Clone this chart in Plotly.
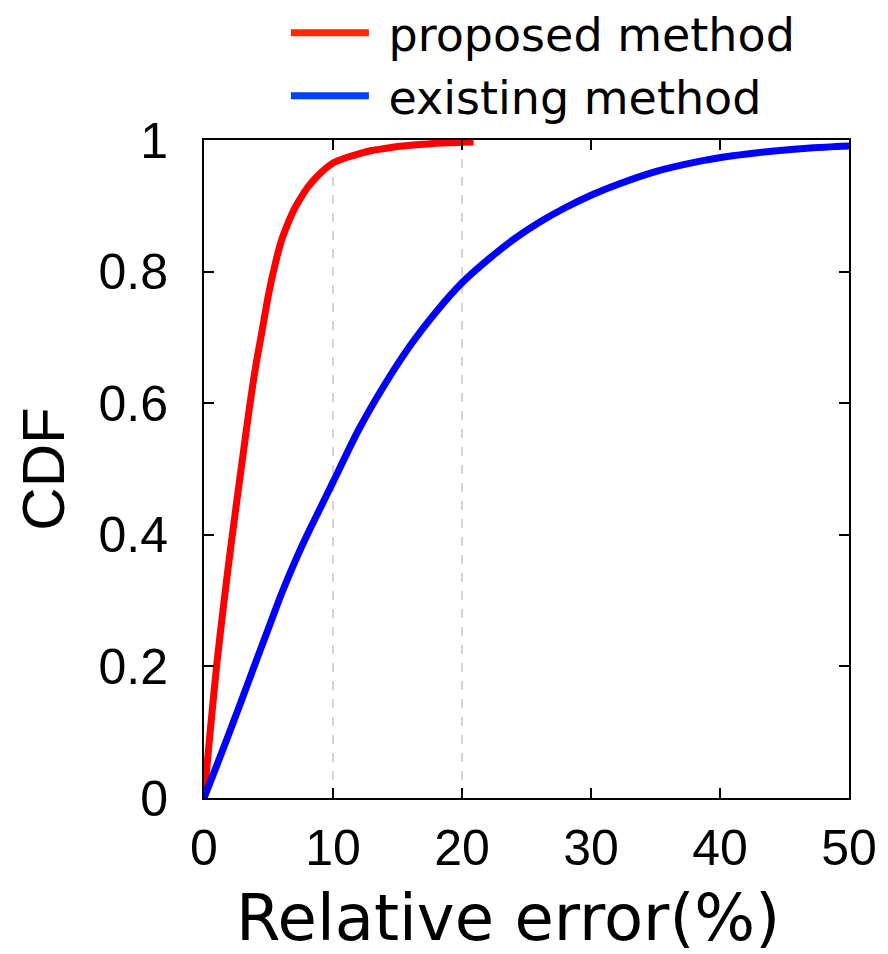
import plotly.graph_objects as go

# Data
proposed_x = [0, 0.5, 1, 1.5, 2, 2.5, 3, 3.5, 4, 4.5, 5, 5.5, 6, 6.5, 7, 7.5, 8, 8.5, 9, 9.5,
              10, 11, 12, 13, 14, 15, 16, 17, 18, 19, 20, 20.9]
proposed_y = [0, 0.105, 0.205, 0.29, 0.37, 0.445, 0.518, 0.59, 0.655, 0.71, 0.765, 0.81, 0.847, 0.873,
              0.895, 0.912, 0.927, 0.939, 0.949, 0.958, 0.965, 0.973, 0.979, 0.984, 0.987, 0.990,
              0.992, 0.9935, 0.995, 0.996, 0.9965, 0.997]

existing_x = [0, 1, 2, 3, 4, 5, 6, 7, 8, 9, 10, 12, 14, 16, 18, 20, 22, 24, 26, 28, 30, 32,
              35, 38, 41, 44, 47, 50]
existing_y = [0, 0.05, 0.101, 0.153, 0.206, 0.258, 0.31, 0.357, 0.40, 0.44, 0.48, 0.56, 0.628, 0.688,
              0.739, 0.783, 0.818, 0.849, 0.875, 0.897, 0.916, 0.932, 0.952, 0.966, 0.976, 0.983,
              0.988, 0.991]

series_names = ["proposed method", "existing method"]
line_colors = ["#ff0000", "#0000ff"]
legend_colors = ["#ff2a00", "#0040ff"]

x_ticks = [0, 10, 20, 30, 40, 50]
y_ticks = [0, 0.2, 0.4, 0.6, 0.8, 1]
y_tick_labels = ["0", "0.2", "0.4", "0.6", "0.8", "1"]
ref_lines = [10, 20]

fig = go.Figure()

for xs, ys, name, col in zip([proposed_x, existing_x], [proposed_y, existing_y], series_names, line_colors):
    fig.add_trace(go.Scatter(
        x=xs, y=ys, mode="lines", name=name, showlegend=False,
        line=dict(color=col, width=7, shape="spline", smoothing=0.8),
    ))

# legend entries (legend samples in the reference use slightly different hues)
for name, col in zip(series_names, legend_colors):
    fig.add_trace(go.Scatter(
        x=[None], y=[None], mode="lines", name="\u00a0" + name,
        line=dict(color=col, width=7),
    ))

for xv in ref_lines:
    fig.add_shape(type="line", xref="x", yref="paper", x0=xv, x1=xv, y0=0, y1=1,
                  line=dict(color="#aaaaaa", width=1, dash="dash"), layer="below")

axis_common = dict(
    showline=True, linecolor="black", linewidth=2, mirror="ticks",
    ticks="inside", ticklen=10, tickwidth=2, tickcolor="black",
    showgrid=False, zeroline=False, automargin=False,
    tickfont=dict(family="Liberation Sans, Arial", size=50, color="black"),
)

fig.update_xaxes(range=[0, 50], tickvals=x_ticks, ticklabelstandoff=5, **axis_common)
fig.update_yaxes(
    range=[0, 1], tickvals=y_ticks, ticktext=y_tick_labels, ticklabelstandoff=24,
    title=dict(text="CDF", font=dict(family="Liberation Sans, Arial", size=60, color="black"), standoff=14),
    **axis_common,
)

fig.add_annotation(
    text="Relative error(%)", xref="paper", yref="paper", x=0.471, y=-0.123,
    xanchor="center", yanchor="top", showarrow=False,
    font=dict(family="DejaVu Sans", size=64, color="black"),
)

fig.update_layout(
    width=880, height=946,
    margin=dict(l=196, r=39, t=132, b=156, autoexpand=False),
    plot_bgcolor="white", paper_bgcolor="white",
    showlegend=True,
    legend=dict(
        x=0.127, y=1.0115, xanchor="left", yanchor="bottom",
        font=dict(family="DejaVu Sans", size=46, color="black"),
        bgcolor="rgba(0,0,0,0)", itemwidth=78, tracegroupgap=0,
    ),
)

fig.write_html("out.html")
